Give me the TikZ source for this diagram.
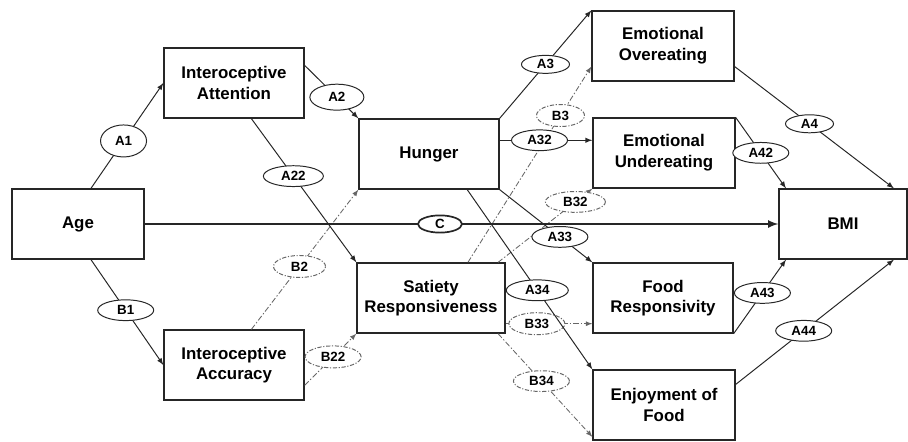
\documentclass[tikz,border=0pt]{standalone}
\usepackage{fontspec}
\setmainfont{Liberation Sans}
\usepackage{tikz}
\usetikzlibrary{shapes.geometric, arrows, positioning, calc}

\begin{document}
\begin{tikzpicture}[x=0.025cm, y=-0.025cm]
    \tikzstyle{box} = [rectangle, draw=black!85, line width=0.9pt, fill=white, minimum width=3.5cm, minimum height=1.75cm, inner sep=2pt, align=center, font=\fontsize{12}{14.7}\selectfont\bfseries]
    \tikzstyle{est} = [ellipse, draw=black!85, line width=0.7pt, fill=white, inner sep=0pt, minimum width=1.4cm, minimum height=0.52cm, font=\fontsize{9.5}{10}\selectfont\bfseries]
    \tikzstyle{estb} = [est, draw=black!60, dash pattern=on 3pt off 1.2pt on 0.8pt off 1.2pt]
    \tikzstyle{line} = [draw=black!85, line width=0.7pt, -latex]
    \tikzstyle{dline} = [draw=black!60, line width=0.6pt, dash pattern=on 4pt off 1.5pt on 1pt off 1.5pt, -latex]

    \useasboundingbox (0,0) rectangle (908,441);

    \node [box, minimum width=3.3cm] (age) at (78,224) {Age};
    \node [box] (attn) at (234,83) {Interoceptive\\Attention};
    \node [box] (acc) at (234,365) {Interoceptive\\Accuracy};
    \node [box] (hunger) at (429,154) {Hunger};
    \node [box, minimum width=3.7cm] (satiety) at (431,298) {Satiety\\Responsiveness};
    \node [box, minimum width=3.55cm] (eo) at (663,46) {Emotional\\Overeating};
    \node [box, minimum width=3.55cm] (eu) at (664,153) {Emotional\\Undereating};
    \node [box] (fr) at (663,298) {Food\\Responsivity};
    \node [box, minimum width=3.55cm] (ef) at (664,405) {Enjoyment of\\Food};
    \node [box, minimum width=3.2cm] (bmi) at (843,224) {BMI};

    \path [dline] (acc.64) -- node [estb, pos=0.45, minimum width=1.3cm, minimum height=0.55cm] {B2} (hunger.south west);
    \path [dline] (acc.-16) -- node [estb, pos=0.55, minimum height=0.55cm] {B22} (satiety.south west);
    \path [dline] (satiety.44) -- node [estb, pos=0.75, minimum width=1.2cm, minimum height=0.55cm] {B3} (eo.196);
    \path [dline] (satiety.28) -- node [estb, pos=0.82, minimum width=1.5cm] {B32} (eu.south west);
    \path [dline] (satiety.-19) -- node [estb, pos=0.36, minimum height=0.55cm] {B33} (satiety.-19 -| fr.west);
    \path [dline] (satiety.-28) -- node [estb, pos=0.46] {B34} (ef.204);

    \path [line] (age.70) -- node [est, pos=0.45, minimum width=1.15cm, minimum height=0.8cm] {A1} (attn.west);
    \path [line] (age.-70) -- node [est, pos=0.48] {B1} (acc.west);
    \path [line] (attn.14) -- node [est, pos=0.6, minimum width=1.35cm, minimum height=0.65cm] {A2} (hunger.north west);
    \path [line] (attn.-64) -- node [est, pos=0.4, minimum width=1.5cm] {A22} (satiety.north west);

    \path [line] (hunger.north east) -- node [est, pos=0.5, minimum width=1.2cm, minimum height=0.45cm] {A3} (eo.north west);
    \path [line] (hunger.11) -- node [est, pos=0.43] {A32} (hunger.11 -| eu.west);
    \path [line] (hunger.south east) -- node [est, pos=0.65] {A33} (fr.north west);
    \path [line] (hunger.-43) -- node [est, pos=0.56, minimum width=1.55cm] {A34} (ef.north west);

    \path [line] (eo.-16) -- node [est, pos=0.47, minimum width=1.2cm, minimum height=0.45cm] {A4} (bmi.35);
    \path [line] (eu.north east) -- node [est, pos=0.5] {A42} (bmi.148);
    \path [line] (fr.south east) -- node [est, pos=0.55] {A43} (bmi.-148);
    \path [line] (ef.16) -- node [est, pos=0.43] {A44} (bmi.-35);

    \path [line, line width=1.5pt] (age.east) -- node [est, pos=0.466, line width=1.2pt, minimum width=1.1cm, minimum height=0.43cm] {C} (bmi.west);
\end{tikzpicture}
\end{document}
